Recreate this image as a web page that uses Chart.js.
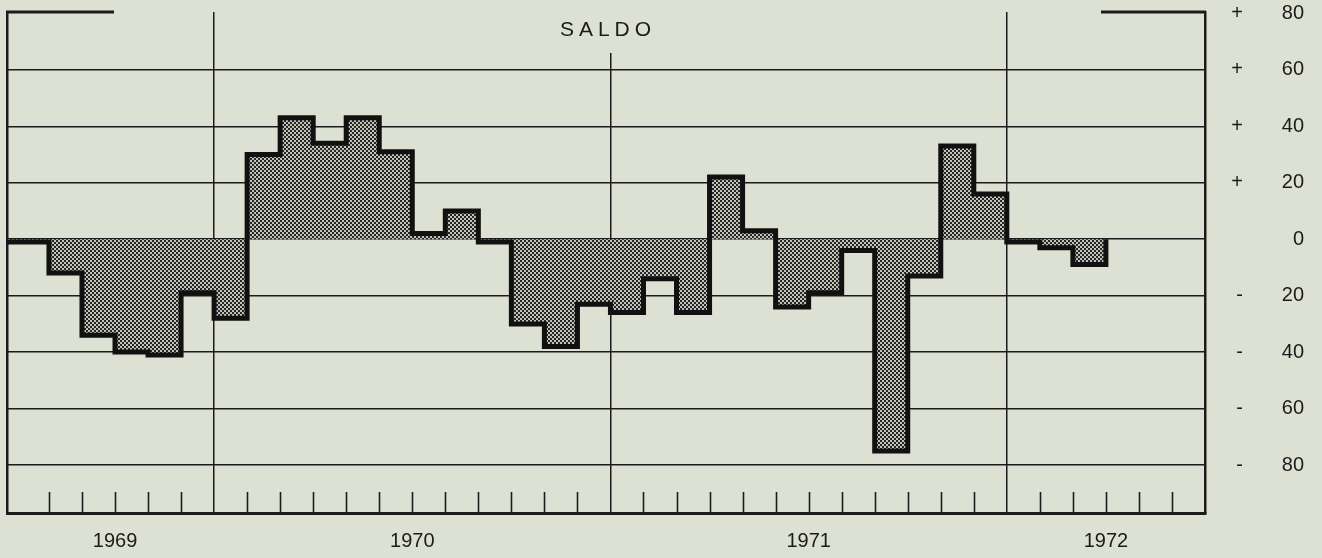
<!DOCTYPE html>
<html>
<head>
<meta charset="utf-8">
<script src="https://cdn.jsdelivr.net/npm/chart.js@4.4.1/dist/chart.umd.min.js"></script>
<style>
  html, body { margin: 0; padding: 0; background: #dde1d3; }
  #wrap { width: 1322px; height: 558px; }
</style>
</head>
<body>
<div id="wrap"><canvas id="saldoChart" width="1322" height="558"></canvas></div>
<script>
// Months on the time axis (Jul 1969 - Jun 1972)
const months = [
  "1969-07", "1969-08", "1969-09", "1969-10", "1969-11", "1969-12",
  "1970-01", "1970-02", "1970-03", "1970-04", "1970-05", "1970-06",
  "1970-07", "1970-08", "1970-09", "1970-10", "1970-11", "1970-12",
  "1971-01", "1971-02", "1971-03", "1971-04", "1971-05", "1971-06",
  "1971-07", "1971-08", "1971-09", "1971-10", "1971-11", "1971-12",
  "1972-01", "1972-02", "1972-03", "1972-04", "1972-05", "1972-06",
];

// Monthly balance (saldo), Jul 1969 - Mar 1972
const saldo = [
  -1, -12, -34, -40, -41, -19,
  -28, 30, 43, 34, 43, 31, 2, 10, -1, -30, -38, -23,
  -26, -14, -26, 22, 3, -24, -19, -4, -75, -13, 33, 16,
  -1, -3, -9,
];

const yearLabels = ["1969", "1970", "1971", "1972"];
const yTicks = [80, 60, 40, 20, 0, -20, -40, -60, -80];

const BG = "#dde1d3";
const INK = "#1b1b1b";
// the printed frame starts a little before the first month
const X_MIN = -0.27;

// Year boundaries and year midpoints, derived from the month list
const yearStarts = [];
const yearMid = {};
yearLabels.forEach((yr) => {
  const idx = months.map((m, i) => (m.startsWith(yr) ? i : -1)).filter((i) => i >= 0);
  const first = idx[0];
  const last = idx[idx.length - 1] + 1;
  if (first > 0) yearStarts.push(first);
  yearMid[(first + last) / 2] = yr;
});

// Step outline: one point per month start, first step runs from the frame,
// last month is closed back to zero
const points = saldo.map((v, i) => ({ x: i, y: v }));
points.unshift({ x: X_MIN, y: saldo[0] });
points.push({ x: saldo.length, y: saldo[saldo.length - 1] });
points.push({ x: saldo.length, y: 0 });

// Halftone-like dot screen for the filled area
function makeScreen() {
  const c = document.createElement("canvas");
  c.width = 4;
  c.height = 4;
  const g = c.getContext("2d");
  g.fillStyle = "#bfc2b7";
  g.fillRect(0, 0, 4, 4);
  g.fillStyle = "#262626";
  g.fillRect(0, 0, 2, 2);
  g.fillRect(2, 2, 2, 2);
  return g.createPattern(c, "repeat");
}

// Inner month ticks, partial top frame and the SALDO title
const decorPlugin = {
  id: "saldoDecor",
  afterDraw(chart) {
    const { ctx, chartArea: a } = chart;
    const x = chart.scales.x;
    ctx.save();

    ctx.strokeStyle = INK;
    ctx.lineWidth = 1.6;
    for (let i = 1; i < months.length; i++) {
      if (yearStarts.includes(i)) continue;
      const px = Math.round(x.getPixelForValue(i)) + 0.5;
      ctx.beginPath();
      ctx.moveTo(px, a.bottom);
      ctx.lineTo(px, a.bottom - 21);
      ctx.stroke();
    }

    ctx.lineWidth = 3;
    ctx.beginPath();
    ctx.moveTo(a.left - 1, a.top);
    ctx.lineTo(a.left + 107, a.top);
    ctx.moveTo(a.right - 104, a.top);
    ctx.lineTo(a.right + 1, a.top);
    ctx.stroke();

    const cx = (a.left + a.right) / 2;
    ctx.fillStyle = BG;
    ctx.fillRect(cx - 55, a.top - 1, 110, 42);
    ctx.fillStyle = INK;
    ctx.font = "21px 'Liberation Sans'";
    ctx.textAlign = "center";
    ctx.textBaseline = "middle";
    ctx.letterSpacing = "5px";
    ctx.fillText("SALDO", cx + 2, a.top + 18);
    ctx.restore();
  },
};

const ctx = document.getElementById("saldoChart").getContext("2d");
new Chart(ctx, {
  type: "line",
  data: {
    datasets: [
      {
        label: "Saldo",
        data: points,
        stepped: "before",
        borderColor: "#111111",
        borderWidth: 5,
        borderJoinStyle: "miter",
        backgroundColor: makeScreen(),
        fill: "origin",
        pointRadius: 0,
      },
    ],
  },
  options: {
    responsive: false,
    animation: false,
    layout: { padding: { left: 7, right: 18, top: 12, bottom: 0 } },
    plugins: {
      legend: { display: false },
      tooltip: { enabled: false },
    },
    scales: {
      x: {
        type: "linear",
        min: X_MIN,
        max: months.length,
        afterBuildTicks: (scale) => {
          scale.ticks = [{ value: X_MIN }]
            .concat(months.map((m, i) => ({ value: i })))
            .concat([{ value: months.length }]);
        },
        afterFit: (scale) => {
          scale.height = 45;
        },
        grid: {
          drawTicks: false,
          color: (c) => {
            const v = c.tick.value;
            if (v === X_MIN || yearStarts.includes(v)) return INK;
            return "rgba(0,0,0,0)";
          },
          lineWidth: (c) => (c.tick.value === X_MIN ? 2.5 : 1.5),
        },
        border: { display: true, color: INK, width: 3 },
        ticks: {
          autoSkip: false,
          maxRotation: 0,
          padding: 0,
          color: INK,
          font: { family: "'Liberation Sans'", size: 20, lineHeight: 2.8 },
          callback: (v) => yearMid[v] || "",
        },
      },
      y: {
        position: "right",
        min: -97,
        max: 80.5,
        afterBuildTicks: (scale) => {
          scale.ticks = yTicks.map((v) => ({ value: v }));
        },
        afterFit: (scale) => {
          scale.width = 99;
        },
        grid: {
          drawTicks: false,
          color: (c) => (c.tick.value === 80 ? "rgba(0,0,0,0)" : INK),
          lineWidth: 1.5,
        },
        border: { display: true, color: INK, width: 2.5 },
        ticks: {
          crossAlign: "far",
          padding: 0,
          color: INK,
          font: { family: "'Liberation Sans'", size: 20 },
          callback: (v) => {
            if (v === 0) return "0";
            const sign = v > 0 ? "+" : "-";
            return sign + "       " + Math.abs(v);
          },
        },
      },
    },
  },
  plugins: [decorPlugin],
});
</script>
</body>
</html>
